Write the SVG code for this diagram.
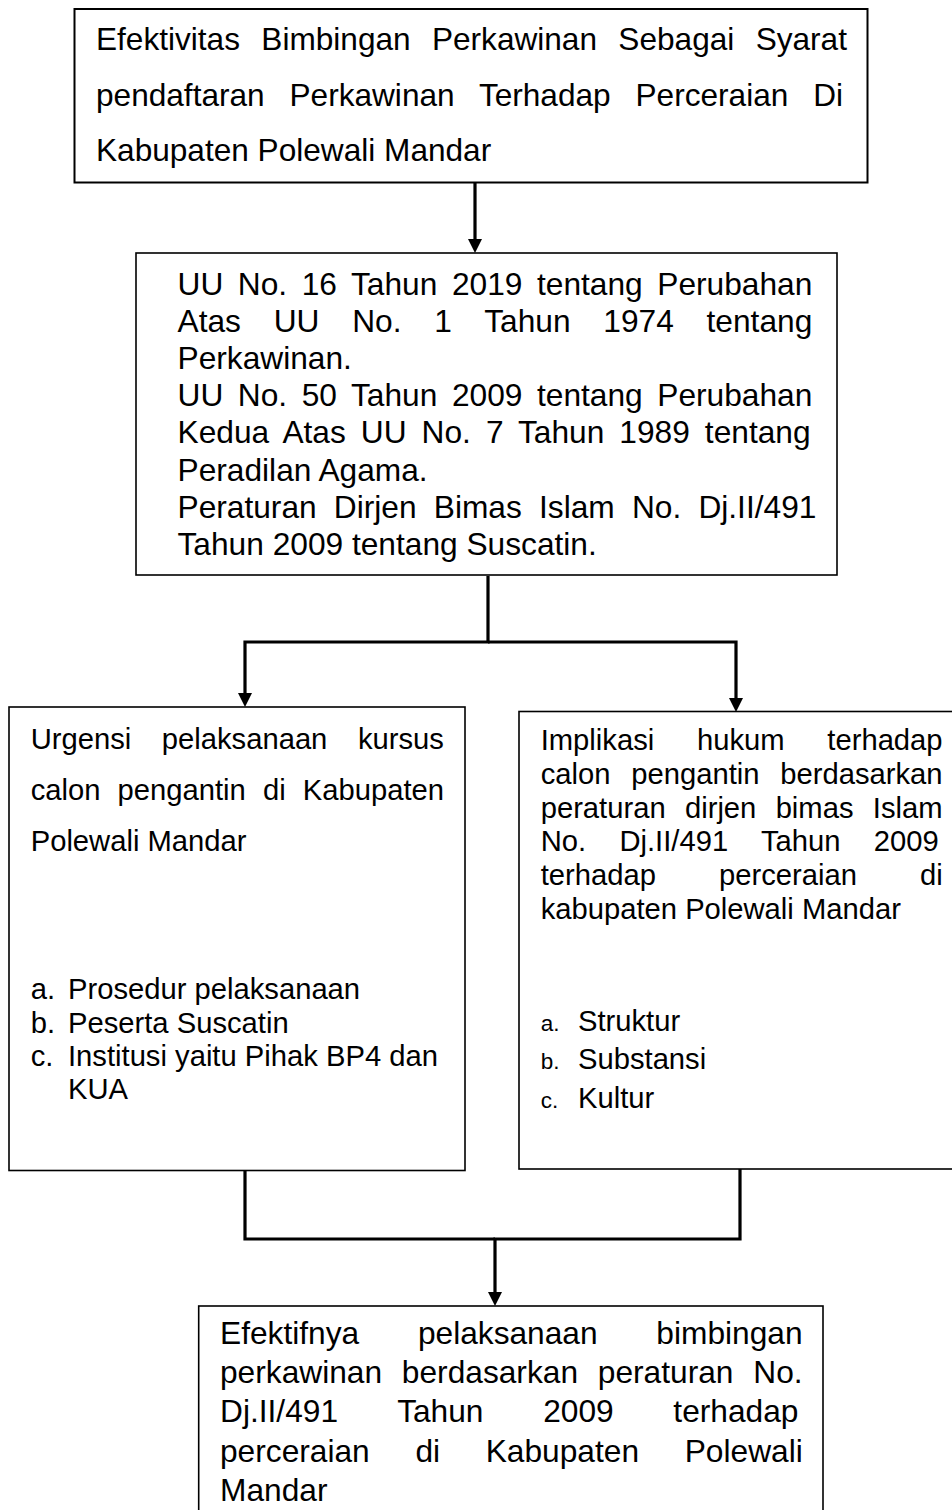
<svg xmlns="http://www.w3.org/2000/svg" width="952" height="1510" viewBox="0 0 952 1510">
<style>
  .box{fill:#fff;stroke:#000;stroke-width:1.6}
  .box1{fill:#fff;stroke:#000;stroke-width:2}
  text{font-family:"Liberation Sans",Arial,sans-serif;fill:#000}
  .f32{font-size:31.6px}
  .f29{font-size:29.2px}
  .lbl{font-size:22.5px}
  .con{fill:none;stroke:#000;stroke-width:3.2}
</style>
<defs>
  <marker id="arr" markerUnits="userSpaceOnUse" markerWidth="16" markerHeight="16" viewBox="0 -8 16 16" refX="0" refY="0" orient="auto">
    <path d="M0,-7 L14,0 L0,7 Z" fill="#000"/>
  </marker>
</defs>
<rect width="952" height="1510" fill="#fff"/>

<g id="connectors">
  <path class="con" d="M475 183 V239" marker-end="url(#arr)"/>
  <path class="con" d="M488 576 V642 H245 V693" marker-end="url(#arr)"/>
  <path class="con" d="M488 642 H736 V698" marker-end="url(#arr)"/>
  <path class="con" d="M245 1171 V1239 H495"/>
  <path class="con" d="M740 1169 V1239 H495 V1292" marker-end="url(#arr)"/>
</g>

<g id="node-judul">
  <rect class="box1" x="74.5" y="9" width="793" height="173.5"/>
  <text class="f32" x="96" y="50" style="word-spacing:12.56px">Efektivitas Bimbingan Perkawinan Sebagai Syarat</text>
  <text class="f32" x="96" y="105.5" style="word-spacing:16.1px">pendaftaran Perkawinan Terhadap Perceraian Di</text>
  <text class="f32" x="96" y="160.5">Kabupaten Polewali Mandar</text>
</g>

<g id="node-dasar-hukum">
  <rect class="box" x="136" y="253" width="701" height="322"/>
  <g style="font-size:31.7px">
    <text x="177.5" y="294.5" style="word-spacing:5.78px">UU No. 16 Tahun 2019 tentang Perubahan</text>
    <text x="177.5" y="331.7" style="word-spacing:23.98px">Atas UU No. 1 Tahun 1974 tentang</text>
    <text x="177.5" y="368.9">Perkawinan.</text>
    <text x="177.5" y="406.1" style="word-spacing:5.78px">UU No. 50 Tahun 2009 tentang Perubahan</text>
    <text x="177.5" y="443.3" style="word-spacing:6.21px">Kedua Atas UU No. 7 Tahun 1989 tentang</text>
    <text x="177.5" y="480.5">Peradilan Agama.</text>
    <text x="177.5" y="517.7" style="word-spacing:8.38px">Peraturan Dirjen Bimas Islam No. Dj.II/491</text>
    <text x="177.5" y="554.9">Tahun 2009 tentang Suscatin.</text>
  </g>
</g>

<g id="node-urgensi">
  <rect class="box" x="9" y="707" width="456" height="463.5"/>
  <text class="f29" x="30.7" y="749" style="word-spacing:22.45px">Urgensi pelaksanaan kursus</text>
  <text class="f29" x="30.7" y="800" style="word-spacing:9.03px">calon pengantin di Kabupaten</text>
  <text class="f29" x="30.7" y="851">Polewali Mandar</text>
  <text class="f29" x="30.7" y="999">a.</text>
  <text class="f29" x="68" y="999">Prosedur pelaksanaan</text>
  <text class="f29" x="30.7" y="1032.5">b.</text>
  <text class="f29" x="68" y="1032.5">Peserta Suscatin</text>
  <text class="f29" x="30.7" y="1066">c.</text>
  <text class="f29" x="68" y="1066">Institusi yaitu Pihak BP4 dan</text>
  <text class="f29" x="68" y="1099">KUA</text>
</g>

<g id="node-implikasi">
  <rect class="box" x="519" y="711.5" width="460" height="457.5"/>
  <text class="f29" x="540.7" y="750" style="word-spacing:34.65px">Implikasi hukum terhadap</text>
  <text class="f29" x="540.7" y="783.8" style="word-spacing:12.7px">calon pengantin berdasarkan</text>
  <text class="f29" x="540.7" y="817.6" style="word-spacing:11.2px">peraturan dirjen bimas Islam</text>
  <text class="f29" x="540.7" y="851.4" style="word-spacing:25.23px">No. Dj.II/491 Tahun 2009</text>
  <text class="f29" x="540.7" y="885.2" style="word-spacing:54.93px">terhadap perceraian di</text>
  <text class="f29" x="540.7" y="919">kabupaten Polewali Mandar</text>
  <text class="lbl" x="540.7" y="1030.5">a.</text>
  <text class="f29" x="578" y="1030.5">Struktur</text>
  <text class="lbl" x="540.7" y="1069">b.</text>
  <text class="f29" x="578" y="1069">Substansi</text>
  <text class="lbl" x="540.7" y="1107.5">c.</text>
  <text class="f29" x="578" y="1107.5">Kultur</text>
</g>

<g id="node-kesimpulan">
  <rect class="box" x="198.7" y="1306" width="624.3" height="230"/>
  <g style="font-size:31.7px">
    <text x="220" y="1343.5" style="word-spacing:49.95px">Efektifnya pelaksanaan bimbingan</text>
    <text x="220" y="1383" style="word-spacing:11px">perkawinan berdasarkan peraturan No.</text>
    <text x="220" y="1422.3" style="word-spacing:50.9px">Dj.II/491 Tahun 2009 terhadap</text>
    <text x="220" y="1461.7" style="word-spacing:36.87px">perceraian di Kabupaten Polewali</text>
    <text x="220" y="1501">Mandar</text>
  </g>
</g>
</svg>
